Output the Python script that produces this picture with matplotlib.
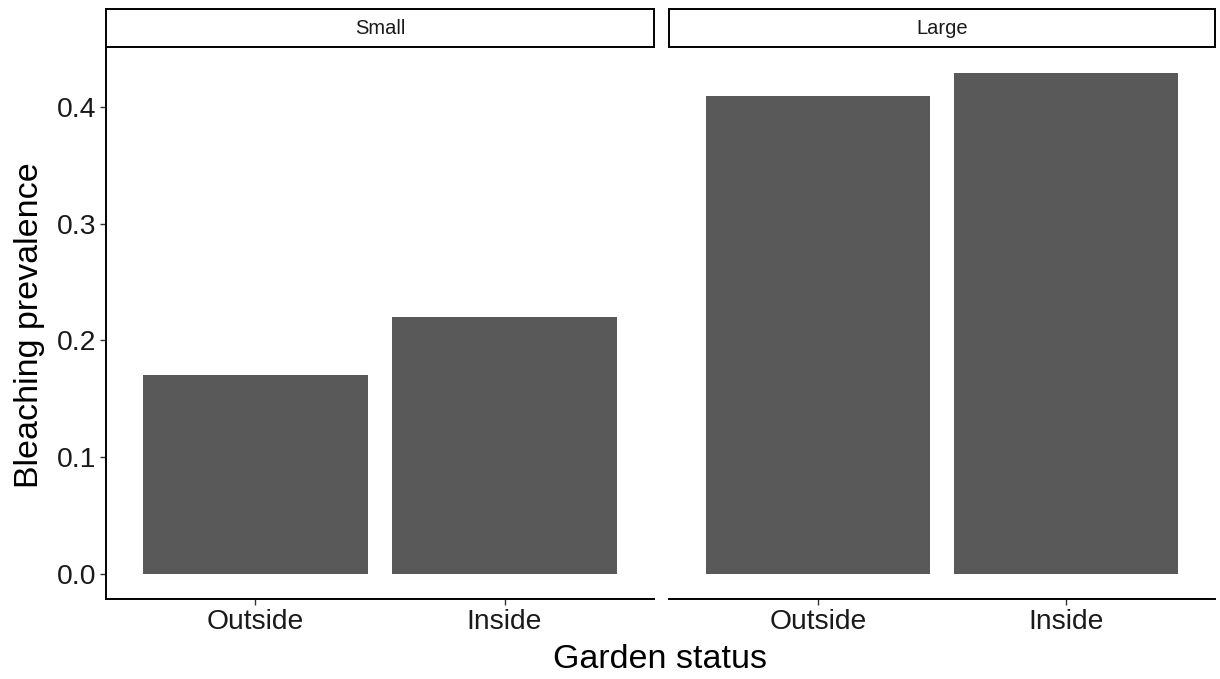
import matplotlib.pyplot as plt

plt.rcParams["font.family"] = ["Liberation Sans", "DejaVu Sans"]

# data
panels = ["Small", "Large"]
status = ["Outside", "Inside"]
prevalence = {
    "Small": [0.17, 0.22],
    "Large": [0.409, 0.429],
}
y_ticks = [0.0, 0.1, 0.2, 0.3, 0.4]

BAR = "#595959"
W, H = 1220, 679

fig = plt.figure(figsize=(W / 100, H / 100), dpi=100)

panel_x = [(106, 654), (669, 1215)]
p_top, p_bot = 48, 599
s_top, s_bot = 9, 47

ymax = max(max(v) for v in prevalence.values())
ylim = (-0.05 * ymax, 1.05 * ymax)

for i, name in enumerate(panels):
    x0, x1 = panel_x[i]
    ax = fig.add_axes([x0 / W, 1 - p_bot / H, (x1 - x0) / W, (p_bot - p_top) / H])
    pos = list(range(len(status)))
    ax.bar(pos, prevalence[name], width=0.9, color=BAR, zorder=2)
    ax.set_xlim(-0.6, len(status) - 0.4)
    ax.set_ylim(*ylim)
    ax.set_xticks(pos)
    ax.set_xticklabels(status, fontsize=20.3, color="#1a1a1a")
    for side in ("top", "right"):
        ax.spines[side].set_visible(False)
    ax.spines["bottom"].set_linewidth(1.4)
    ax.spines["left"].set_linewidth(1.4)
    ax.tick_params(axis="x", length=4, width=1.0, color="#333333", pad=3)
    if i == 0:
        ax.set_yticks(y_ticks)
        ax.set_yticklabels([f"{t:.1f}" for t in y_ticks], fontsize=20.3, color="#1a1a1a")
        ax.tick_params(axis="y", length=4, width=1.0, color="#333333", pad=3)
    else:
        ax.spines["left"].set_visible(False)
        ax.set_yticks([])

    # strip
    sax = fig.add_axes([x0 / W, 1 - s_bot / H, (x1 - x0) / W, (s_bot - s_top) / H])
    sax.set_xticks([])
    sax.set_yticks([])
    for sp in sax.spines.values():
        sp.set_linewidth(1.4)
        sp.set_color("black")
    sax.text(0.5, 0.5, name, ha="center", va="center", fontsize=14.5,
             color="#1a1a1a", transform=sax.transAxes)

fig.text(660 / W, 1 - 660 / H, "Garden status", ha="center", va="center", fontsize=24.5)
fig.text(30 / W, 1 - 325 / H, "Bleaching prevalence", ha="center", va="center",
         rotation=90, fontsize=24.5)

fig.savefig("out.png", dpi=100)
